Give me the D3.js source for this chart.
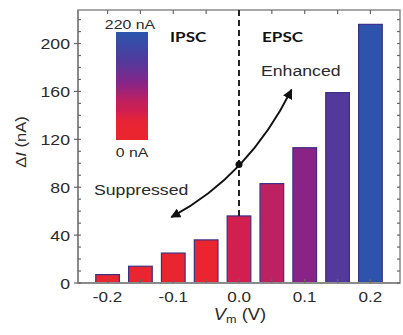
<!DOCTYPE html>
<html>
<head>
<meta charset="utf-8">
<script src="https://cdn.jsdelivr.net/npm/d3@7"></script>
<style>
  body { margin: 0; background: #fff; }
  svg { display: block; }
</style>
</head>
<body>
<svg id="chart" width="403" height="335"></svg>
<script>
// bar data: membrane voltage (V) and current change (nA)
let voltages = [-0.2, -0.15, -0.1, -0.05, 0.0, 0.05, 0.1, 0.15, 0.2];
let deltaI = [7, 14, 25, 36, 56, 83, 113, 159, 216];

let xTickLabels = [-0.2, -0.1, 0.0, 0.1, 0.2];
let yTickLabels = [0, 40, 80, 120, 160, 200];

// arrow annotation (data coords): tail, curve control, head, centre dot
let arrowPts = [[-0.103, 55], [0.0144, 89.5], [0.080, 161.5]];
let dotPt = [0, 99];

const svg = d3.select("#chart");
const plotL = 78, plotR = 400, plotT = 10, plotB = 283;
const stretch = 1.22; // the original text is horizontally stretched

const x = d3.scaleLinear().domain([-0.245, 0.245]).range([plotL, plotR]);
const y = d3.scaleLinear().domain([0, 228]).range([plotB, plotT]);

const color = d3.scaleLinear()
    .domain([0, 36, 56, 83, 113, 160, 220])
    .range(["#ea2530", "#ea2530", "#d21f4f", "#bd2161", "#8a2388", "#52399c", "#2a55ae"]);

const sans = "'Liberation Sans', Arial, sans-serif";

function label(txt, px, py, opts) {
    opts = opts || {};
    return svg.append("text")
        .attr("transform", "translate(" + px + "," + py + ") scale(" + stretch + ",1)")
        .attr("text-anchor", opts.anchor || "start")
        .attr("font-family", opts.family || sans)
        .attr("font-size", opts.size || 14.5)
        .attr("font-weight", opts.weight || "normal")
        .attr("fill", opts.fill || "#2a2a2a")
        .text(txt);
}

// bars
const barHalf = 0.018;
svg.append("g").selectAll("rect")
    .data(voltages)
    .join("rect")
    .attr("x", d => x(d - barHalf))
    .attr("width", d => x(d + barHalf) - x(d - barHalf))
    .attr("y", (d, i) => y(deltaI[i]))
    .attr("height", (d, i) => y(0) - y(deltaI[i]))
    .attr("fill", (d, i) => color(deltaI[i]))
    .attr("stroke", "#3d2f86")
    .attr("stroke-width", 1.2);

// frame
svg.append("rect")
    .attr("x", plotL).attr("y", plotT)
    .attr("width", plotR - plotL).attr("height", plotB - plotT)
    .attr("fill", "none")
    .attr("stroke", "#8a8a8a")
    .attr("stroke-width", 1.5);
svg.append("line")
    .attr("x1", plotL).attr("x2", plotR).attr("y1", plotB).attr("y2", plotB)
    .attr("stroke", "#8a8a8a").attr("stroke-width", 2.2);
svg.append("line")
    .attr("x1", plotL).attr("x2", plotL).attr("y1", plotT).attr("y2", plotB)
    .attr("stroke", "#8a8a8a").attr("stroke-width", 2);

// minor / major ticks
const xTicks = d3.range(-0.2, 0.201, 0.05);
const yMinor = d3.range(0, 221, 10);
const tickG = svg.append("g").attr("stroke", "#666").attr("stroke-width", 1.2);
xTicks.forEach(v => {
    tickG.append("line").attr("x1", x(v)).attr("x2", x(v)).attr("y1", plotB).attr("y2", plotB - 4);
    tickG.append("line").attr("x1", x(v)).attr("x2", x(v)).attr("y1", plotT).attr("y2", plotT + 4);
});
yMinor.forEach(v => {
    tickG.append("line").attr("x1", plotL).attr("x2", plotL + 3).attr("y1", y(v)).attr("y2", y(v));
    tickG.append("line").attr("x1", plotR).attr("x2", plotR - 3).attr("y1", y(v)).attr("y2", y(v));
});
yTickLabels.forEach(v => {
    tickG.append("line").attr("x1", plotL).attr("x2", plotL - 4).attr("y1", y(v)).attr("y2", y(v));
});

// tick labels
xTickLabels.forEach(v => {
    label(d3.format(".1f")(v).replace("\u2212", "-"), x(v), 302, {anchor: "middle", size: 14});
});
yTickLabels.forEach(v => {
    label(v, 70, y(v) + 5.5, {anchor: "end"});
});

// axis titles
const yt = svg.append("text")
    .attr("transform", "translate(26,142) rotate(-90) scale(1.1,1)")
    .attr("text-anchor", "middle")
    .attr("font-family", sans)
    .attr("font-size", 15)
    .attr("fill", "#2a2a2a");
yt.append("tspan").text("\u0394");
yt.append("tspan").attr("font-style", "italic").text("I");
yt.append("tspan").text(" (nA)");

const xt = svg.append("text")
    .attr("transform", "translate(240,320) scale(1.15,1)")
    .attr("text-anchor", "middle")
    .attr("font-family", sans)
    .attr("font-size", 16)
    .attr("fill", "#2a2a2a");
xt.append("tspan").attr("font-style", "italic").text("V");
xt.append("tspan").attr("font-size", 11).attr("dy", 3).text("m");
xt.append("tspan").attr("dy", -3).text(" (V)");

// dashed divider at 0 V
svg.append("line")
    .attr("x1", x(0)).attr("x2", x(0))
    .attr("y1", plotT).attr("y2", y(deltaI[voltages.indexOf(0)]))
    .attr("stroke", "#222")
    .attr("stroke-width", 2)
    .attr("stroke-dasharray", "6,4");

// colour bar legend
const defs = svg.append("defs");
const grad = defs.append("linearGradient")
    .attr("id", "cbar").attr("x1", 0).attr("x2", 0).attr("y1", 1).attr("y2", 0);
d3.range(0, 221, 20).forEach(v => {
    grad.append("stop").attr("offset", v / 220).attr("stop-color", color(v));
});
svg.append("rect")
    .attr("x", 116).attr("y", 32).attr("width", 32).attr("height", 108)
    .attr("fill", "url(#cbar)");
label("220 nA", 130, 29, {anchor: "middle", size: 13});
label("0 nA", 132, 157, {anchor: "middle", size: 13});

// region labels
label("IPSC", 170, 42, {weight: "bold", size: 14, fill: "#111", family: "Lato, 'Open Sans', sans-serif"});
label("EPSC", 262, 42, {weight: "bold", size: 14, fill: "#111", family: "Lato, 'Open Sans', sans-serif"});
label("Enhanced", 261, 76, {size: 14.5});
label("Suppressed", 94, 195, {size: 14.5});

// curved double arrow
defs.append("marker")
    .attr("id", "ahead")
    .attr("viewBox", "0 0 10 10")
    .attr("refX", 9).attr("refY", 5)
    .attr("markerWidth", 5).attr("markerHeight", 5)
    .attr("markerUnits", "strokeWidth")
    .attr("orient", "auto-start-reverse")
    .append("path")
    .attr("d", "M0,0 L10,5 L0,10 z")
    .attr("fill", "#111");

const p = d3.path();
p.moveTo(x(arrowPts[0][0]), y(arrowPts[0][1]));
p.quadraticCurveTo(x(arrowPts[1][0]), y(arrowPts[1][1]), x(arrowPts[2][0]), y(arrowPts[2][1]));
svg.append("path")
    .attr("d", p.toString())
    .attr("fill", "none")
    .attr("stroke", "#111")
    .attr("stroke-width", 2)
    .attr("marker-start", "url(#ahead)")
    .attr("marker-end", "url(#ahead)");

svg.append("circle")
    .attr("cx", x(dotPt[0])).attr("cy", y(dotPt[1]))
    .attr("r", 3.5)
    .attr("fill", "#111");
</script>
</body>
</html>
